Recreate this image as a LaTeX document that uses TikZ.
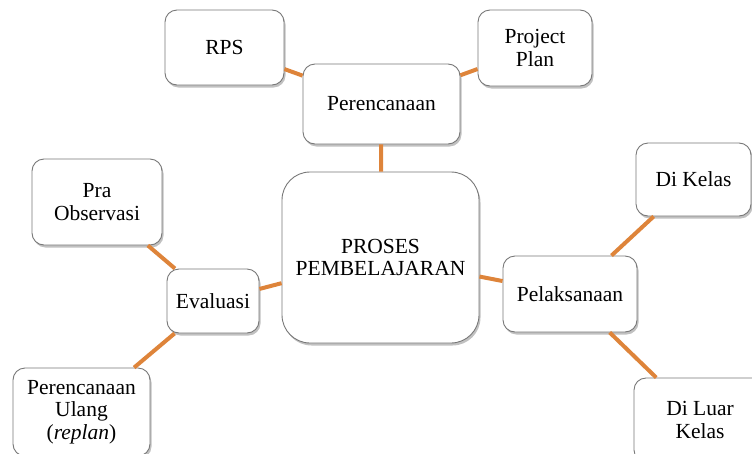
\documentclass[tikz,border=0pt]{standalone}
\usepackage{fontspec}
\setmainfont{Liberation Serif}
\usetikzlibrary{shadows}
\definecolor{conn}{RGB}{222,132,58}
\definecolor{boxline}{RGB}{120,120,120}
\begin{document}
\begin{tikzpicture}[x=1pt,y=-1pt,
  box/.style={draw=boxline, line width=0.9pt, fill=white, rounded corners=12pt,
    align=center, inner sep=0pt,
    font=\fontsize{21.5}{22.5}\selectfont,
    drop shadow={shadow xshift=1.5pt, shadow yshift=-2.5pt, opacity=0.35, fill=black!70}},
  link/.style={draw=conn, line width=4pt}]
\useasboundingbox (0,0) rectangle (752,453);
% nodes
\node[box, minimum width=119pt, minimum height=75pt] (rps) at (224.5,47.5) {RPS};
\node[box, minimum width=114pt, minimum height=76pt] (plan) at (535,48) {Project\\Plan};
\node[box, minimum width=157pt, minimum height=80pt] (pren) at (381.5,104) {Perencanaan};
\node[box, rounded corners=28pt, minimum width=197pt, minimum height=171pt] (proses) at (380.5,257.5) {PROSES\\PEMBELAJARAN};
\node[box, minimum width=130pt, minimum height=86pt] (pra) at (97,202) {Pra\\Observasi};
\node[box, minimum width=92pt, minimum height=64pt] (eval) at (213,301) {Evaluasi};
\node[box, minimum width=137pt, minimum height=88pt] (replan) at (81.5,412) {Perencanaan\\Ulang\\(\textit{replan})};
\node[box, minimum width=115pt, minimum height=73pt] (kelas) at (693.5,179.5) {Di Kelas};
\node[box, minimum width=134pt, minimum height=76pt] (pelak) at (570,294) {Pelaksanaan};
\node[box, minimum width=132pt, minimum height=84pt] (luar) at (700,420) {Di Luar\\Kelas};
% connectors
\path[link] (rps) -- (pren);
\path[link] (plan) -- (pren);
\path[link] (pren) -- (proses);
\path[link] (proses) -- (pelak);
\path[link] (pelak) -- (kelas);
\path[link] (pelak) -- (luar);
\path[link] (proses) -- (eval);
\path[link] (eval) -- (pra);
\path[link] (eval) -- (replan);
\end{tikzpicture}
\end{document}
